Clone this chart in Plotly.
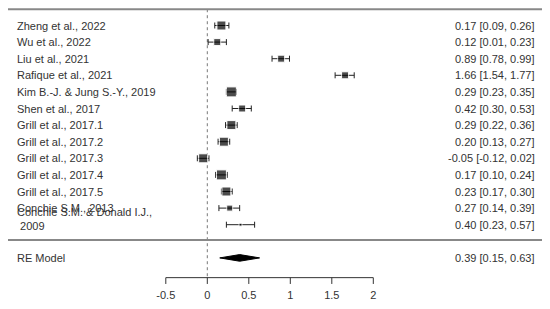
import plotly.graph_objects as go

# study data
studies = ["Zheng et al., 2022", "Wu et al., 2022", "Liu et al., 2021", "Rafique et al., 2021",
           "Kim B.-J. & Jung S.-Y., 2019", "Shen et al., 2017", "Grill et al., 2017.1",
           "Grill et al., 2017.2", "Grill et al., 2017.3", "Grill et al., 2017.4",
           "Grill et al., 2017.5", "Conchie S.M., 2013", "Conchie S.M. & Donald I.J.,<br> 2009"]
est = [0.17, 0.12, 0.89, 1.66, 0.29, 0.42, 0.29, 0.20, -0.05, 0.17, 0.23, 0.27, 0.40]
lo = [0.09, 0.01, 0.78, 1.54, 0.23, 0.30, 0.22, 0.13, -0.12, 0.10, 0.17, 0.14, 0.23]
hi = [0.26, 0.23, 0.99, 1.77, 0.35, 0.53, 0.36, 0.27, 0.02, 0.24, 0.30, 0.39, 0.57]
weights = [9, 7, 7, 7, 10, 7, 9, 9, 9, 10, 9, 6, 3]   # marker size ~ weight

re_est, re_lo, re_hi = 0.39, 0.15, 0.63
ticks = [-0.5, 0, 0.5, 1, 1.5, 2]

rows = list(range(len(studies)))
re_row = 14
axis_y = 15.19
FONT = dict(family="Liberation Sans, Arial, sans-serif", size=11, color="#333")

# page body has an 8px margin, so figure pixel = window pixel - 8
OFF = 8
W, H = 550, 309

fig = go.Figure()

# study points with CIs
fig.add_trace(go.Scatter(
    x=est, y=rows, mode="markers",
    marker=dict(symbol="square", size=weights, color="black"),
    error_x=dict(type="data", symmetric=False,
                 array=[h - e for h, e in zip(hi, est)],
                 arrayminus=[e - l for e, l in zip(est, lo)],
                 color="#222", thickness=1, width=3),
    hoverinfo="skip"))

# RE diamond
h = 0.2
fig.add_trace(go.Scatter(
    x=[re_lo, re_est, re_hi, re_est, re_lo],
    y=[re_row, re_row - h, re_row, re_row + h, re_row],
    mode="lines", fill="toself", fillcolor="black",
    line=dict(color="black", width=1), hoverinfo="skip"))

# x axis drawn forest-style
ax_x, ax_y = [ticks[0], ticks[-1], None], [axis_y, axis_y, None]
for t in ticks:
    ax_x += [t, t, None]
    ax_y += [axis_y, axis_y + 0.38, None]
fig.add_trace(go.Scatter(x=ax_x, y=ax_y, mode="lines",
                         line=dict(color="#333", width=1), hoverinfo="skip"))
fig.add_trace(go.Scatter(x=ticks, y=[axis_y + 1.15] * len(ticks), mode="text",
                         text=[f"{t:g}" for t in ticks], textfont=FONT,
                         hoverinfo="skip"))

lx = (15 - OFF) / W
rx = (537 - OFF) / W

# labels
ann = []
for i, s in enumerate(studies):
    ann.append(dict(x=lx, xref="paper", y=i, yref="y", text=s, showarrow=False,
                    xanchor="left", yanchor="middle", align="left", font=FONT,
                    yshift=6 if "<br>" in s else 0))
    ann.append(dict(x=rx, xref="paper", y=i, yref="y", showarrow=False,
                    text=f"{est[i]:.2f} [{lo[i]:.2f}, {hi[i]:.2f}]",
                    xanchor="right", yanchor="middle", font=FONT))
ann.append(dict(x=lx, xref="paper", y=re_row, yref="y", text="RE Model",
                showarrow=False, xanchor="left", font=FONT))
ann.append(dict(x=rx, xref="paper", y=re_row, yref="y", showarrow=False,
                text=f"{re_est:.2f} [{re_lo:.2f}, {re_hi:.2f}]", xanchor="right", font=FONT))

x0p, x1p = (8 - OFF) / W, (543 - OFF) / W
shapes = [
    dict(type="line", xref="paper", x0=x0p, x1=x1p, yref="y", y0=-0.98, y1=-0.98,
         line=dict(color="#888", width=2)),
    dict(type="line", xref="paper", x0=x0p, x1=x1p, yref="y", y0=12.92, y1=12.92,
         line=dict(color="#888", width=2)),
    dict(type="line", xref="x", x0=0, x1=0, yref="y", y0=-0.98, y1=axis_y,
         line=dict(color="#777", width=1, dash="dot"), layer="below"),
]

zx = 207.3 - OFF
zy = 25.5 - OFF
fig.update_layout(
    width=W, height=H, margin=dict(l=0, r=0, t=0, b=0),
    paper_bgcolor="white", plot_bgcolor="white", showlegend=False,
    xaxis=dict(range=[-zx / 83, (W - zx) / 83], visible=False),
    yaxis=dict(range=[(H - zy) / 16.6, -zy / 16.6], visible=False),
    annotations=ann, shapes=shapes,
)

fig.write_html("out.html")
